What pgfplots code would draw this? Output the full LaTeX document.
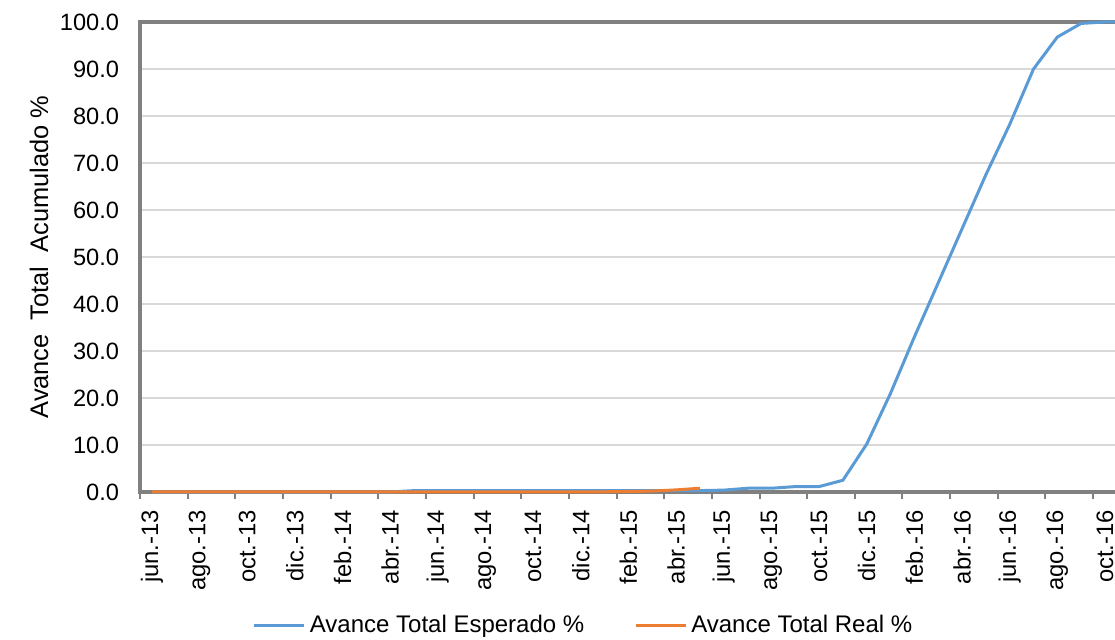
\documentclass[border=0pt]{standalone}
\usepackage{fontspec}
\setmainfont{Liberation Sans}
\usepackage{pgfplots}
\usepackage{pgfplotstable}
\pgfplotsset{compat=1.18}
\definecolor{serieA}{HTML}{5B9BD5}
\definecolor{serieB}{HTML}{ED7D31}
\definecolor{axgray}{HTML}{808080}
\definecolor{grdgray}{HTML}{D9D9D9}

% x: month index, 0 = jun.-13
\pgfplotstableread{
x y
0 0
1 0
2 0
3 0
4 0
5 0
6 0
7 0
8 0
9 0
10 0
11 0.3
12 0.3
13 0.3
14 0.3
15 0.3
16 0.3
17 0.3
18 0.3
19 0.3
20 0.3
21 0.3
22 0.3
23 0.3
24 0.4
25 0.8
26 0.8
27 1.15
28 1.15
29 2.5
30 10.2
31 21.0
32 33.0
33 44.5
34 56.0
35 67.5
36 78.2
37 90.0
38 96.8
39 99.7
40 100.0
41 100.0
}\esperado

\pgfplotstableread{
x y
0 0.05
1 0.05
2 0.05
3 0.05
4 0.05
5 0.05
6 0.05
7 0.05
8 0.05
9 0.05
10 0.05
11 0.05
12 0.05
13 0.05
14 0.05
15 0.05
16 0.05
17 0.05
18 0.05
19 0.05
20 0.1
21 0.2
22 0.45
23 0.8
}\real

\begin{document}
\begin{tikzpicture}
\begin{axis}[
  scale only axis,
  width=487.5bp, height=235bp,
  xmin=-0.5, xmax=40.42,
  ymin=0, ymax=100,
  clip=false,
  axis line style={draw=none},
  ytick={0,10,...,100},
  ymajorgrids,
  grid style={grdgray, line width=1bp},
  y tick style={draw=none},
  yticklabel style={font=\fontsize{11.8bp}{14bp}\selectfont, xshift=-7bp},
  /pgf/number format/fixed,
  /pgf/number format/fixed zerofill,
  /pgf/number format/precision=1,
  /pgf/number format/assume math mode=true,
  xtick={0,2,...,40},
  xticklabels={jun.-13,ago.-13,oct.-13,dic.-13,feb.-14,abr.-14,jun.-14,ago.-14,oct.-14,dic.-14,feb.-15,abr.-15,jun.-15,ago.-15,oct.-15,dic.-15,feb.-16,abr.-16,jun.-16,ago.-16,oct.-16},
  xtick pos=lower,
  major x tick style={draw=none},
  xticklabel style={font=\fontsize{11.9bp}{14bp}\selectfont, rotate=90, anchor=east, xshift=-5.5bp},
  extra x ticks={-0.5,1.5,...,39.5},
  extra x tick labels={},
  extra x tick style={major x tick style={draw=axgray, line width=1bp}, major tick length=3.5bp, tick align=outside},
  ylabel={Avance\ \ Total\ \ Acumulado \%},
  ylabel style={font=\fontsize{12.7bp}{15bp}\selectfont, at={([xshift=-50.5bp]rel axis cs:0,0.5)}, anchor=center},
  legend columns=2,
  legend style={at={(0.456,-0.283)}, anchor=center, draw=none, fill=none,
    font=\fontsize{12bp}{14bp}\selectfont,
    /tikz/every even column/.append style={column sep=23bp}},
  legend image code/.code={\draw[#1] (0bp,0bp) -- (25bp,0bp);},
]
\draw[axgray, line width=1.6bp] (rel axis cs:1,1) -- (rel axis cs:0,1) -- (rel axis cs:0,0) -- (rel axis cs:1,0);
\addplot[serieA, line width=1.5bp] table[x=x,y=y] {\esperado};
\addlegendentry{Avance Total Esperado \%}
\addplot[serieB, line width=1.5bp] table[x=x,y=y] {\real};
\addlegendentry{Avance Total Real \%}
\coordinate (sw) at (rel axis cs:0,0);
\coordinate (ne) at (rel axis cs:1,1);
\end{axis}
\pgfresetboundingbox
\path ([xshift=-70bp,yshift=-74bp]sw) rectangle ([yshift=11bp]ne);
\end{tikzpicture}
\end{document}
